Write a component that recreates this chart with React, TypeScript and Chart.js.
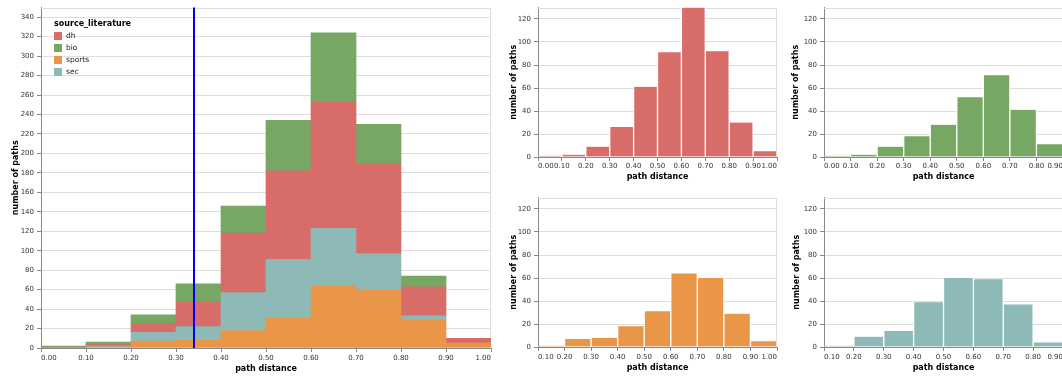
import React, { useEffect, useRef } from "react";
import { Chart, registerables } from "chart.js";

Chart.register(...registerables);

const FONT = "'DejaVu Sans', sans-serif";
Chart.defaults.font.family = FONT;

// Histogram bins: lower edges, each 0.1 wide
const binStarts = [0.0, 0.1, 0.2, 0.3, 0.4, 0.5, 0.6, 0.7, 0.8, 0.9];
const binWidth = 0.1;

// Path counts per bin for each source literature
const dhCounts = [1, 2, 9, 26, 61, 91, 130, 92, 30, 5];
const bioCounts = [1, 2, 9, 18, 28, 52, 71, 41, 11, 0];
const sportsCounts = [0, 1, 7, 8, 18, 31, 64, 60, 29, 5];
const secCounts = [0, 1, 9, 14, 39, 60, 59, 37, 4, 0];

const legendOrder = ["dh", "bio", "sports", "sec"];
const stackOrder = ["sports", "sec", "dh", "bio"];
const seriesColors: Record<string, string> = {
  dh: "#d86c68",
  bio: "#76a864",
  sports: "#ea9649",
  sec: "#8dbab6",
};

// Axis ticks
const mainXTicks = [0.0, 0.1, 0.2, 0.3, 0.4, 0.5, 0.6, 0.7, 0.8, 0.9, 1.0];
const mainYTicks = [0, 20, 40, 60, 80, 100, 120, 140, 160, 180, 200, 220, 240, 260, 280, 300, 320, 340];
const mainYMax = 350;
const dhXTicks = [0.0, 0.1, 0.2, 0.3, 0.4, 0.5, 0.6, 0.7, 0.8, 0.9, 1.0];
const bioXTicks = [0.0, 0.1, 0.2, 0.3, 0.4, 0.5, 0.6, 0.7, 0.8, 0.9];
const sportsXTicks = [0.1, 0.2, 0.3, 0.4, 0.5, 0.6, 0.7, 0.8, 0.9, 1.0];
const secXTicks = [0.1, 0.2, 0.3, 0.4, 0.5, 0.6, 0.7, 0.8, 0.9];
const panelYTicks = [0, 20, 40, 60, 80, 100, 120];
const panelYMax = 130;

// Reference distance marked with a vertical rule
const thresholdDistance = 0.34;

const countsBySeries: Record<string, number[]> = {
  dh: dhCounts,
  bio: bioCounts,
  sports: sportsCounts,
  sec: secCounts,
};

type Frame = {
  left: number;
  top: number;
  width: number;
  height: number;
  plotLeft: number;
  plotTop: number;
  plotRight: number;
  plotBottom: number;
  yTitleX: number;
  xTitleY: number;
  xLabelPad: number;
};

const mainFrame: Frame = { left: 0, top: 0, width: 500, height: 376, plotLeft: 41, plotTop: 7.5, plotRight: 491, plotBottom: 348, yTitleX: 16, xTitleY: 369, xLabelPad: 2 };
const dhFrame: Frame = { left: 500, top: 0, width: 290, height: 190, plotLeft: 538, plotTop: 7.5, plotRight: 777, plotBottom: 157, yTitleX: 513.5, xTitleY: 177, xLabelPad: 1 };
const bioFrame: Frame = { left: 790, top: 0, width: 290, height: 190, plotLeft: 824, plotTop: 7.5, plotRight: 1063, plotBottom: 157, yTitleX: 796, xTitleY: 177, xLabelPad: 1 };
const sportsFrame: Frame = { left: 500, top: 190, width: 290, height: 186, plotLeft: 538, plotTop: 197.5, plotRight: 777, plotBottom: 347, yTitleX: 513.5, xTitleY: 368, xLabelPad: 1.5 };
const secFrame: Frame = { left: 790, top: 190, width: 290, height: 186, plotLeft: 824, plotTop: 197.5, plotRight: 1063, plotBottom: 347, yTitleX: 797, xTitleY: 368, xLabelPad: 1.5 };

function binPoints(counts: number[]) {
  return binStarts
    .map((start, i) => ({ x: start + binWidth / 2, y: counts[i] }))
    .filter((p) => p.y > 0);
}

// Light border on the top and right of the plot area
const viewFrame = {
  id: "viewFrame",
  beforeDatasetsDraw(chart: any) {
    const { ctx, chartArea: a } = chart;
    ctx.save();
    ctx.strokeStyle = "#dddddd";
    ctx.lineWidth = 1;
    const top = Math.round(a.top) + 0.5;
    const right = Math.round(a.right) - 0.5;
    ctx.beginPath();
    ctx.moveTo(a.left, top);
    ctx.lineTo(right, top);
    ctx.lineTo(right, a.bottom);
    ctx.stroke();
    ctx.restore();
  },
};

// Vertical rule at the threshold distance
const thresholdRule = {
  id: "thresholdRule",
  afterDatasetsDraw(chart: any) {
    const { ctx, chartArea: a, scales } = chart;
    const x = scales.x.getPixelForValue(thresholdDistance);
    ctx.save();
    ctx.strokeStyle = "#0000ff";
    ctx.lineWidth = 2;
    ctx.beginPath();
    ctx.moveTo(x, a.top);
    ctx.lineTo(x, a.bottom);
    ctx.stroke();
    ctx.restore();
  },
};

function buildOptions(frame: Frame, xTicks: number[], yTicks: number[], yMax: number, stacked: boolean) {
  const half = (8 * 1.2) / 2;
  return {
    responsive: false,
    maintainAspectRatio: false,
    animation: false,
    devicePixelRatio: 1,
    layout: {
      padding: {
        left: 0,
        top: frame.plotTop - frame.top,
        right: frame.left + frame.width - frame.plotRight,
        bottom: 0,
      },
    },
    plugins: {
      legend: { display: false },
      tooltip: { enabled: false },
    },
    scales: {
      x: {
        type: "linear",
        min: xTicks[0],
        max: xTicks[xTicks.length - 1],
        offset: false,
        stacked,
        afterBuildTicks: (s: any) => {
          s.ticks = xTicks.map((v) => ({ value: v }));
        },
        afterFit: (s: any) => {
          s.height = frame.top + frame.height - frame.plotBottom;
        },
        grid: {
          display: true,
          drawOnChartArea: false,
          drawTicks: true,
          tickLength: 4,
          tickColor: "#888888",
          offset: false,
        },
        border: { display: true, color: "#888888", width: 1 },
        ticks: {
          autoSkip: false,
          maxRotation: 0,
          minRotation: 0,
          align: "inner",
          padding: frame.xLabelPad,
          font: { size: 7, family: FONT },
          color: "#333333",
          callback: (v: any) => Number(v).toFixed(2),
        },
        title: {
          display: true,
          text: "path distance",
          color: "#000000",
          font: { size: 8, weight: "bold", family: FONT },
          padding: { top: 0, bottom: frame.top + frame.height - frame.xTitleY - half },
        },
      },
      y: {
        type: "linear",
        min: 0,
        max: yMax,
        stacked,
        afterBuildTicks: (s: any) => {
          s.ticks = yTicks.map((v) => ({ value: v }));
        },
        afterFit: (s: any) => {
          s.width = frame.plotLeft - frame.left;
        },
        grid: {
          color: "#dddddd",
          tickColor: "#888888",
          tickLength: 4,
          drawTicks: true,
        },
        border: { display: true, color: "#888888", width: 1 },
        ticks: {
          padding: 3,
          font: { size: 7, family: FONT },
          color: "#333333",
          callback: (v: any) => String(v),
        },
        title: {
          display: true,
          text: "number of paths",
          color: "#000000",
          font: { size: 8, weight: "bold", family: FONT },
          padding: { top: frame.yTitleX - frame.left - half, bottom: 0 },
        },
      },
    },
  };
}

function buildMainChart() {
  return {
    type: "bar",
    data: {
      datasets: stackOrder.map((name) => ({
        label: name,
        data: binPoints(countsBySeries[name]),
        backgroundColor: seriesColors[name],
        borderWidth: 0,
        barPercentage: 1,
        categoryPercentage: 1,
      })),
    },
    options: buildOptions(mainFrame, mainXTicks, mainYTicks, mainYMax, true),
    plugins: [viewFrame, thresholdRule],
  };
}

function buildPanel(name: string, frame: Frame, xTicks: number[]) {
  return () => ({
    type: "bar",
    data: {
      datasets: [
        {
          label: name,
          data: binPoints(countsBySeries[name]),
          backgroundColor: seriesColors[name],
          borderColor: "#ffffff",
          borderWidth: { left: 1, right: 1, top: 0, bottom: 0 },
          barPercentage: 1,
          categoryPercentage: 1,
        },
      ],
    },
    options: buildOptions(frame, xTicks, panelYTicks, panelYMax, false),
    plugins: [viewFrame],
  });
}

const buildDh = buildPanel("dh", dhFrame, dhXTicks);
const buildBio = buildPanel("bio", bioFrame, bioXTicks);
const buildSports = buildPanel("sports", sportsFrame, sportsXTicks);
const buildSec = buildPanel("sec", secFrame, secXTicks);

function ChartCanvas({ frame, build }: { frame: Frame; build: () => any }) {
  const ref = useRef<HTMLCanvasElement>(null);
  useEffect(() => {
    const chart = new Chart(ref.current as HTMLCanvasElement, build());
    return () => chart.destroy();
  }, [build]);
  return (
    <canvas
      ref={ref}
      width={frame.width}
      height={frame.height}
      style={{ position: "absolute", left: frame.left, top: frame.top, width: frame.width, height: frame.height }}
    />
  );
}

function Legend() {
  return (
    <div style={{ position: "absolute", left: 54, top: 18, fontFamily: FONT, color: "#000" }}>
      <div style={{ fontSize: 8, fontWeight: "bold", lineHeight: "12px", whiteSpace: "nowrap" }}>source_literature</div>
      {legendOrder.map((name) => (
        <div key={name} style={{ display: "flex", alignItems: "center", height: 12 }}>
          <span style={{ display: "inline-block", width: 8, height: 8, background: seriesColors[name], marginRight: 4 }} />
          <span style={{ fontSize: 7.5, color: "#222", lineHeight: "12px" }}>{name}</span>
        </div>
      ))}
    </div>
  );
}

export default function App() {
  return (
    <div
      style={{
        position: "absolute",
        left: 0,
        top: 0,
        width: 1062,
        height: 376,
        overflow: "hidden",
        background: "#ffffff",
      }}
    >
      <ChartCanvas frame={mainFrame} build={buildMainChart} />
      <ChartCanvas frame={dhFrame} build={buildDh} />
      <ChartCanvas frame={bioFrame} build={buildBio} />
      <ChartCanvas frame={sportsFrame} build={buildSports} />
      <ChartCanvas frame={secFrame} build={buildSec} />
      <Legend />
    </div>
  );
}
